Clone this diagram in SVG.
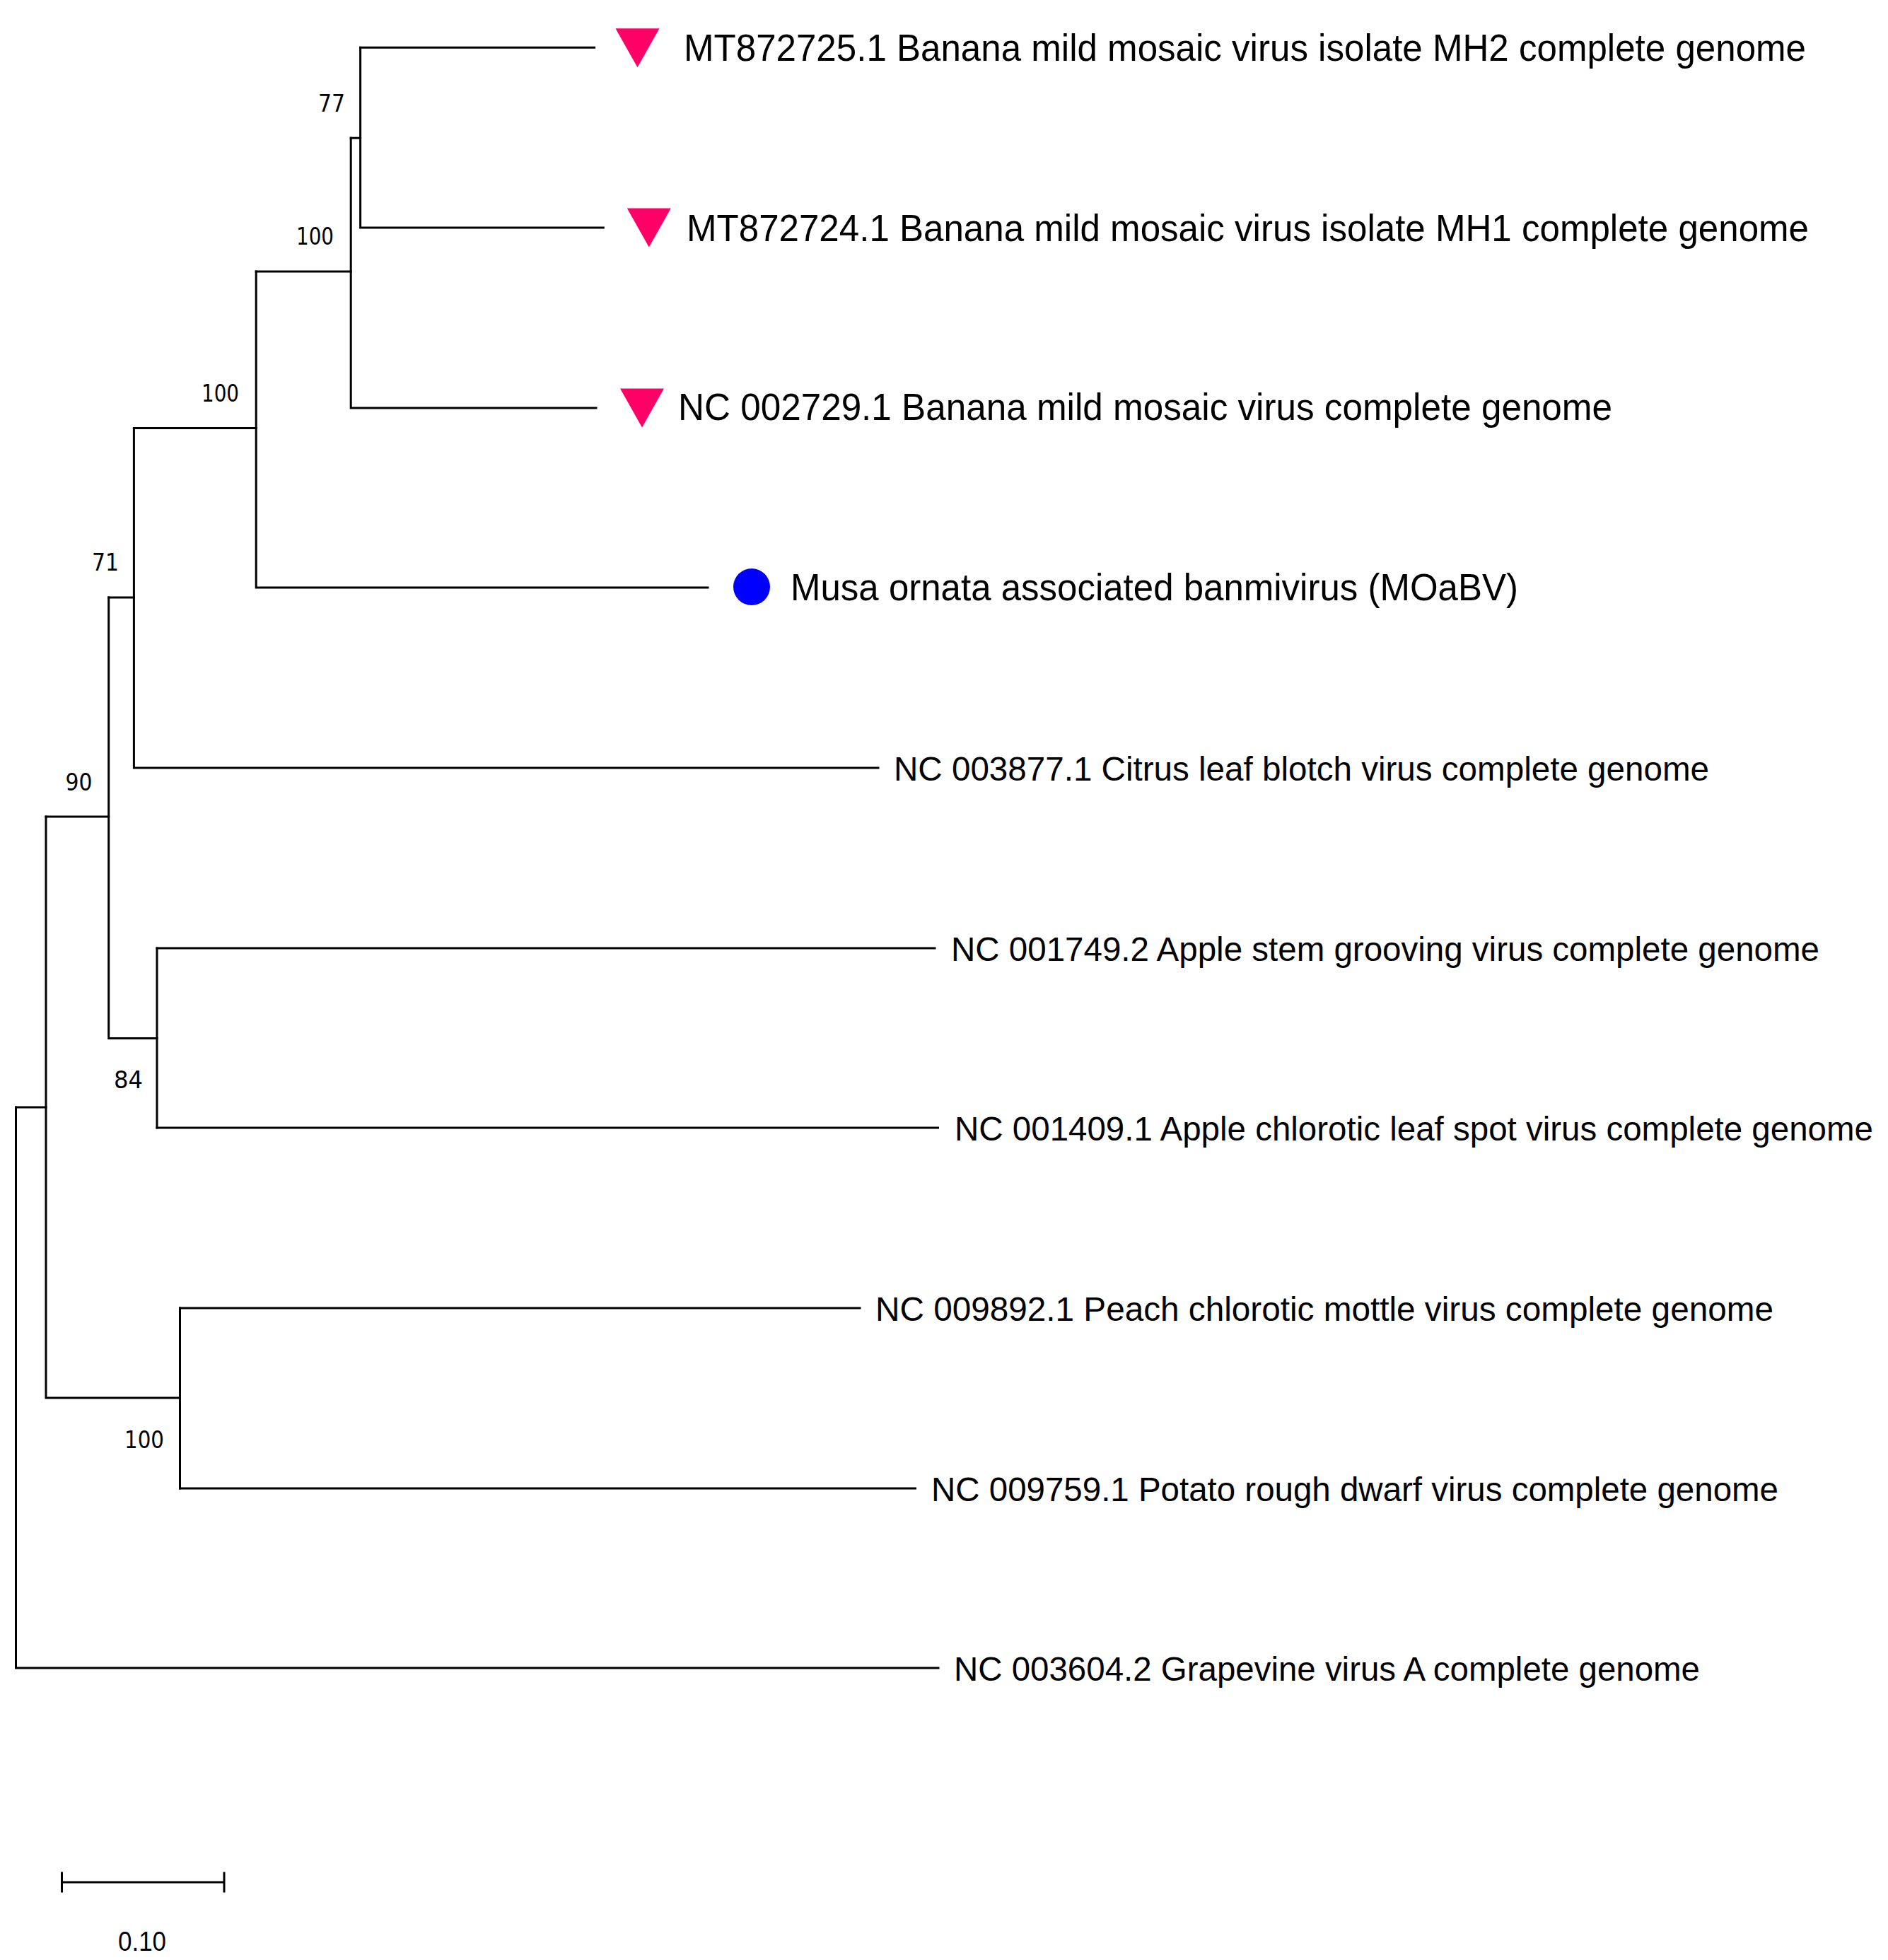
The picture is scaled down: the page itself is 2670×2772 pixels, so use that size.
<svg xmlns="http://www.w3.org/2000/svg" width="2670" height="2772" viewBox="0 0 2670 2772">
<defs>
<style>
.br{stroke:#000;stroke-width:3;fill:none;stroke-linecap:square}
.lt{font-family:"Liberation Sans",Arial,sans-serif;font-size:53px;fill:#000}
.ls{font-family:"Liberation Sans",Arial,sans-serif;font-size:48px;fill:#000}
.bs{font-family:"DejaVu Sans",Verdana,sans-serif;font-size:34px;fill:#000}
.sc{font-family:"Liberation Sans",Arial,sans-serif;font-size:38px;fill:#000}
.tri{fill:#FF0066}
.dot{fill:#0000FF}
</style>
<polygon id="tri" class="tri" points="-31,0 31,0 0,55"/>
</defs>
<rect width="2670" height="2772" fill="#fff"/>
<g id="connectors">
<path class="br" d="M22.5,1566 V2359 H1327"/>
<path class="br" d="M22.5,1566 H65"/>
<path class="br" d="M65,1155 V1977 H254.5"/>
<path class="br" d="M254.5,1850 V2105"/>
<path class="br" d="M254.5,1850 H1216"/>
<path class="br" d="M254.5,2105 H1294.5"/>
<path class="br" d="M65,1155 H153.7 V1468.5 H222"/>
<path class="br" d="M222,1341 V1595"/>
<path class="br" d="M222,1341 H1322"/>
<path class="br" d="M222,1595 H1326.5"/>
<path class="br" d="M153.7,845 H189.4"/>
<path class="br" d="M153.7,845 V1155"/>
<path class="br" d="M189.4,605.6 V1086 H1242"/>
<path class="br" d="M189.4,605.6 H362.2"/>
<path class="br" d="M362.2,384 V831 H1001"/>
<path class="br" d="M362.2,384 H496.2"/>
<path class="br" d="M496.2,195.2 V577 H843"/>
<path class="br" d="M496.2,195.2 H509.6"/>
<path class="br" d="M509.6,67.2 V322 H853.3"/>
<path class="br" d="M509.6,67.2 H840.6"/>
</g>
<g id="bootstrap">
<text class="bs" x="450" y="158" textLength="38" lengthAdjust="spacingAndGlyphs">77</text>
<text class="bs" x="419" y="346" textLength="53" lengthAdjust="spacingAndGlyphs">100</text>
<text class="bs" x="285" y="568" textLength="53" lengthAdjust="spacingAndGlyphs">100</text>
<text class="bs" x="130" y="807" textLength="38" lengthAdjust="spacingAndGlyphs">71</text>
<text class="bs" x="92.5" y="1117.5" textLength="38" lengthAdjust="spacingAndGlyphs">90</text>
<text class="bs" x="161" y="1538.5" textLength="41" lengthAdjust="spacingAndGlyphs">84</text>
<text class="bs" x="176" y="2048" textLength="56" lengthAdjust="spacingAndGlyphs">100</text>
</g>
<g id="node-MT872725">
<use href="#tri" x="901.5" y="40.2"/>
<text class="lt" x="967" y="86" textLength="1587" lengthAdjust="spacingAndGlyphs">MT872725.1 Banana mild mosaic virus isolate MH2 complete genome</text>
</g>
<g id="node-MT872724">
<use href="#tri" x="917.8" y="294.5"/>
<text class="lt" x="971" y="341" textLength="1587" lengthAdjust="spacingAndGlyphs">MT872724.1 Banana mild mosaic virus isolate MH1 complete genome</text>
</g>
<g id="node-NC002729">
<use href="#tri" x="908" y="549.4"/>
<text class="lt" x="959" y="594" textLength="1321" lengthAdjust="spacingAndGlyphs">NC 002729.1 Banana mild mosaic virus complete genome</text>
</g>
<g id="node-MOaBV">
<circle class="dot" cx="1063" cy="830" r="26"/>
<text class="lt" x="1118" y="849" textLength="1029" lengthAdjust="spacingAndGlyphs">Musa ornata associated banmivirus (MOaBV)</text>
</g>
<g id="node-NC003877">
<text class="ls" x="1264" y="1104" textLength="1153" lengthAdjust="spacingAndGlyphs">NC 003877.1 Citrus leaf blotch virus complete genome</text>
</g>
<g id="node-NC001749">
<text class="ls" x="1345" y="1359" textLength="1228" lengthAdjust="spacingAndGlyphs">NC 001749.2 Apple stem grooving virus complete genome</text>
</g>
<g id="node-NC001409">
<text class="ls" x="1350" y="1613" textLength="1299" lengthAdjust="spacingAndGlyphs">NC 001409.1 Apple chlorotic leaf spot virus complete genome</text>
</g>
<g id="node-NC009892">
<text class="ls" x="1238" y="1868" textLength="1270" lengthAdjust="spacingAndGlyphs">NC 009892.1 Peach chlorotic mottle virus complete genome</text>
</g>
<g id="node-NC009759">
<text class="ls" x="1317" y="2123" textLength="1198" lengthAdjust="spacingAndGlyphs">NC 009759.1 Potato rough dwarf virus complete genome</text>
</g>
<g id="node-NC003604">
<text class="ls" x="1349" y="2377" textLength="1055" lengthAdjust="spacingAndGlyphs">NC 003604.2 Grapevine virus A complete genome</text>
</g>
<g id="scale-bar">
<path class="br" d="M87.5,2662 H317 M87.5,2649 V2675 M317,2649 V2675"/>
<text class="sc" x="167" y="2758.5" textLength="68" lengthAdjust="spacingAndGlyphs">0.10</text>
</g>
</svg>
